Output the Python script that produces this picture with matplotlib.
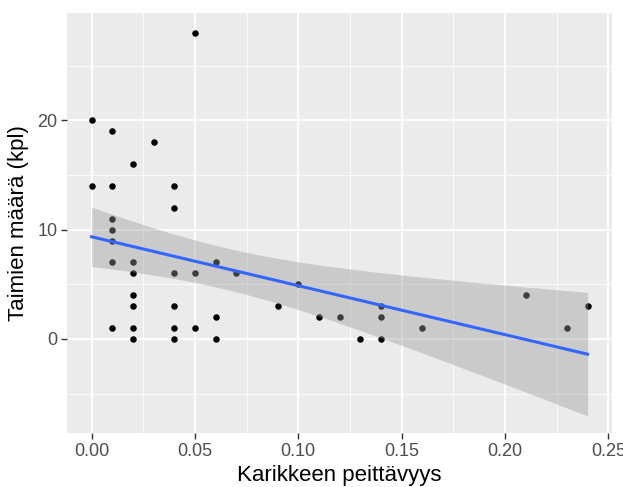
import numpy as np
import matplotlib
matplotlib.use("Agg")
import matplotlib.pyplot as plt

plt.rcParams['font.family'] = ['Liberation Sans', 'DejaVu Sans']

# Karikkeen peittävyys (x) ja taimien määrä (y)
peittavyys = [0.00, 0.00,
              0.01, 0.01, 0.01, 0.01, 0.01, 0.01, 0.01,
              0.02, 0.02, 0.02, 0.02, 0.02, 0.02, 0.02,
              0.03,
              0.04, 0.04, 0.04, 0.04, 0.04, 0.04,
              0.05, 0.05, 0.05,
              0.06, 0.06, 0.06,
              0.07, 0.09, 0.10, 0.11, 0.12, 0.13,
              0.14, 0.14, 0.14,
              0.16, 0.21, 0.23, 0.24]
taimet = [20, 14,
          19, 14, 11, 10, 9, 7, 1,
          16, 7, 6, 4, 3, 1, 0,
          18,
          14, 12, 6, 3, 1, 0,
          28, 6, 1,
          7, 2, 0,
          6, 3, 5, 2, 2, 0,
          3, 2, 0,
          1, 4, 1, 3]

x_ticks = [0.00, 0.05, 0.10, 0.15, 0.20, 0.25]
x_labels = ['0.00', '0.05', '0.10', '0.15', '0.20', '0.25']
y_ticks = [0, 10, 20]

T_975 = 2.021  # t-quantile, df = n - 2 = 40

x = np.array(peittavyys)
y = np.array(taimet)
n = len(x)

# linear fit with 95 % confidence band (like geom_smooth(method = "lm"))
slope, intercept = np.polyfit(x, y, 1)
resid = y - (intercept + slope * x)
s = np.sqrt(np.sum(resid ** 2) / (n - 2))
xs = np.linspace(x.min(), x.max(), 80)
ys = intercept + slope * xs
se = s * np.sqrt(1 / n + (xs - x.mean()) ** 2 / np.sum((x - x.mean()) ** 2))
lo = ys - T_975 * se
hi = ys + T_975 * se

fig = plt.figure(figsize=(6.23, 4.87), dpi=100)
ax = fig.add_axes([67 / 623, 54 / 487, 545 / 623, 420 / 487])
ax.set_facecolor('#EBEBEB')
for sp in ax.spines.values():
    sp.set_visible(False)

ax.scatter(x, y, s=22, color='black', zorder=3, linewidths=0)
ax.fill_between(xs, lo, hi, color='#999999', alpha=0.4, linewidth=0, zorder=4)
ax.plot(xs, ys, color='#3366FF', linewidth=2.2, zorder=5)

ax.set_xlim(-0.0119, 0.2518)
ax.set_ylim(-8.6, 29.8)
ax.set_xticks(x_ticks)
ax.set_xticklabels(x_labels)
ax.set_yticks(y_ticks)
ax.set_xticks([0.025, 0.075, 0.125, 0.175, 0.225], minor=True)
ax.set_yticks([-5, 5, 15, 25], minor=True)
ax.grid(which='major', color='white', linewidth=1.3, zorder=0)
ax.grid(which='minor', color='white', linewidth=0.6, zorder=0)
ax.set_axisbelow(True)
ax.tick_params(which='major', length=4, width=1, color='#333333',
               labelsize=13, labelcolor='#4D4D4D', pad=3)
ax.tick_params(which='minor', length=0)

ax.set_xlabel('Karikkeen peittävyys', fontsize=16, color='black', labelpad=4)
ax.set_ylabel('Taimien määrä (kpl)', fontsize=16, color='black', labelpad=6)

fig.savefig('out.png', dpi=100)
